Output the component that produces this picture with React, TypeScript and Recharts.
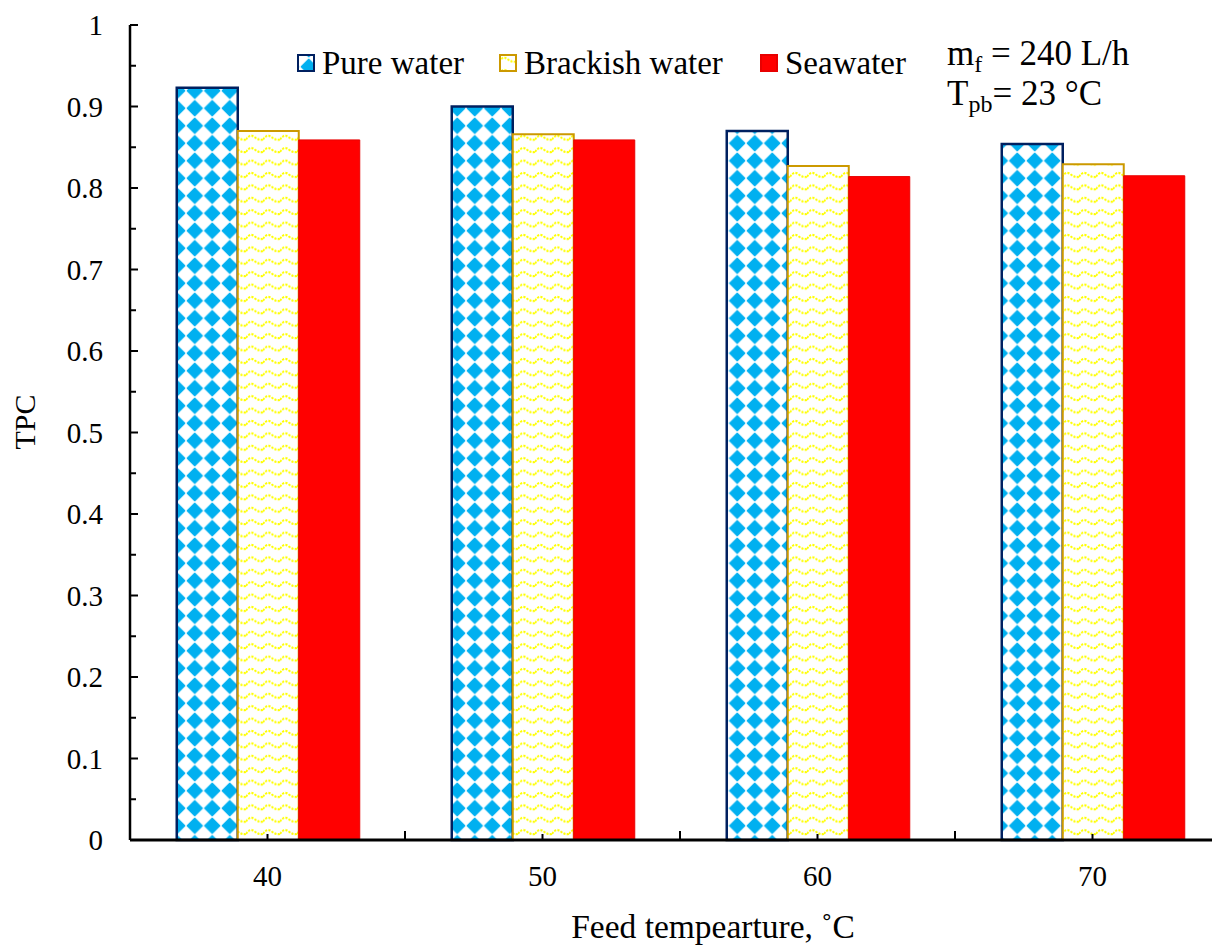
import React from 'react';
import { BarChart, Bar, XAxis, YAxis, Legend, Customized } from 'recharts';

const categories = ['40', '50', '60', '70'];
const pureWater = [0.923, 0.9, 0.87, 0.854];
const brackishWater = [0.87, 0.866, 0.827, 0.829];
const seawater = [0.859, 0.859, 0.814, 0.815];
const seriesNames = ['Pure water', 'Brackish water', 'Seawater'];
const yTicks = [0, 0.05, 0.1, 0.15, 0.2, 0.25, 0.3, 0.35, 0.4, 0.45, 0.5, 0.55, 0.6, 0.65, 0.7, 0.75, 0.8, 0.85, 0.9, 0.95, 1];
const xTitle = 'Feed tempearture, \u02DAC';
const yTitle = 'TPC';

const data = categories.map((c, i) => ({
  temp: c,
  pure: pureWater[i],
  brackish: brackishWater[i],
  sea: seawater[i],
}));

const FONT = "'Liberation Serif', Tinos, 'DejaVu Serif', 'Noto Serif', 'Times New Roman', serif";
const CHART_W = 1240;
const CHART_H = 939;
const MARGIN = { top: 17, right: 18, bottom: 0, left: 0 };
const Y_W = 122;
const X_H = 107;
const PLOT_W = CHART_W - MARGIN.left - MARGIN.right - Y_W;
const HALF_BAND = PLOT_W / categories.length / 2;
const Y_MARGIN = 27;
const X_MARGIN = 46;
const TICK_FS = 29;
const LEGEND_OFFSETS = [0, 202, 463];

const styles = [
  { key: 'pure', fill: 'url(#purePattern)', stroke: '#002060', sw: 2.5 },
  { key: 'brackish', fill: 'url(#brackishPattern)', stroke: '#CC9900', sw: 2 },
  { key: 'sea', fill: '#FF0000', stroke: '#E80000', sw: 1 },
];

function YTick(props: any) {
  const { x, y, payload } = props;
  const v = payload.value as number;
  const major = Math.round(v * 100) % 10 === 0;
  const ax = x + Y_MARGIN;
  return (
    <g>
      <line x1={ax} x2={ax + (major ? 8 : 6)} y1={y} y2={y} stroke="#000" strokeWidth={2} />
      {major && (
        <text x={x} y={y} dy="0.35em" textAnchor="end" fontSize={TICK_FS} style={{ fontFamily: FONT }} fill="#000">
          {String(Number(v.toFixed(1)))}
        </text>
      )}
    </g>
  );
}

function XTick(props: any) {
  const { x, y, payload } = props;
  const ay = y - X_MARGIN;
  return (
    <g>
      <line x1={x} x2={x} y1={ay} y2={ay - 6} stroke="#000" strokeWidth={2} />
      <line x1={x + HALF_BAND} x2={x + HALF_BAND} y1={ay} y2={ay - 9} stroke="#000" strokeWidth={2} />
      <text x={x} y={y} textAnchor="middle" fontSize={TICK_FS} style={{ fontFamily: FONT }} fill="#000">
        {payload.value}
      </text>
    </g>
  );
}

function LegendContent() {
  return (
    <div
      style={{
        position: 'relative',
        width: 640,
        height: 30,
        fontFamily: FONT,
        fontSize: 33,
        lineHeight: '30px',
        whiteSpace: 'nowrap',
        color: '#000',
      }}
    >
      {styles.map((st, i) => (
        <div
          key={st.key}
          style={{ position: 'absolute', left: LEGEND_OFFSETS[i], top: 0, height: 30, display: 'flex', alignItems: 'center' }}
        >
          <svg width={18} height={18} style={{ marginRight: 7, display: 'block' }}>
            <rect x={1} y={1} width={16} height={16} fill={st.fill} stroke={st.stroke} strokeWidth={2} />
          </svg>
          <span>{seriesNames[i]}</span>
        </div>
      ))}
    </div>
  );
}

function Annotations() {
  return (
    <g style={{ fontFamily: FONT }} fill="#000">
      <text x={939} y={57} fontSize={35}>
        m<tspan fontSize={24} dy={7}>f</tspan>
        <tspan fontSize={35} dy={-7}> = 240 L/h</tspan>
      </text>
      <text x={939} y={97} fontSize={35}>
        T<tspan fontSize={24} dy={7}>pb</tspan>
        <tspan fontSize={35} dy={-7}>= 23 °C</tspan>
      </text>
      <text x={27} y={414} fontSize={30} textAnchor="middle" transform="rotate(-90 27 414)">
        {yTitle}
      </text>
      <text x={705} y={930} fontSize={33.5} textAnchor="middle">
        {xTitle}
      </text>
    </g>
  );
}

export default function App() {
  return (
    <div style={{ width: 1212, height: CHART_H, overflow: 'hidden', position: 'relative', fontFamily: FONT }}>
      <svg width={0} height={0} style={{ position: 'absolute' }}>
        <defs>
          <pattern id="purePattern" patternUnits="userSpaceOnUse" width={17.5} height={17.5} x={3} y={4}>
            <rect x={0} y={0} width={17.5} height={17.5} fill="#FFFFFF" />
            <path d="M8.75 1.2 L16.3 8.75 L8.75 16.3 L1.2 8.75 Z" fill="#00B0F0" stroke="#00B0F0" strokeWidth={1.2} strokeLinejoin="round" />
          </pattern>
          <pattern id="brackishPattern" patternUnits="userSpaceOnUse" width={17} height={12.4}>
            <rect x={0} y={0} width={17} height={12.4} fill="#FFFFFF" />
            <path d="M0 7.5 Q4.25 1.5 8.5 5 T17 7.5" fill="none" stroke="#FFFF00" strokeWidth={2} strokeDasharray="2.2 1.2" />
          </pattern>
        </defs>
      </svg>
      <BarChart
        width={CHART_W}
        height={CHART_H}
        data={data}
        margin={MARGIN}
        barCategoryGap="17%"
        barGap={0}
      >
        <XAxis
          dataKey="temp"
          height={X_H}
          tickSize={0}
          tickMargin={X_MARGIN}
          tickLine={false}
          tick={<XTick />}
          interval={0}
          axisLine={{ stroke: '#000', strokeWidth: 3 }}
        />
        <XAxis
          xAxisId="top"
          orientation="top"
          dataKey="temp"
          height={0}
          tick={false}
          tickLine={false}
          axisLine={{ stroke: '#000', strokeWidth: 2.5 }}
        />
        <YAxis
          width={Y_W}
          domain={[0, 1]}
          ticks={yTicks}
          interval={0}
          tickSize={0}
          tickMargin={Y_MARGIN}
          tickLine={false}
          tick={<YTick />}
          axisLine={{ stroke: '#000', strokeWidth: 2.5 }}
        />
        <Legend
          verticalAlign="middle"
          align="center"
          content={<LegendContent />}
          wrapperStyle={{ top: 40, left: 289, width: 'auto' }}
        />
        {styles.map((s, i) => (
          <Bar
            key={s.key}
            dataKey={s.key}
            name={seriesNames[i]}
            fill={s.fill}
            stroke={s.stroke}
            strokeWidth={s.sw}
            isAnimationActive={false}
          />
        ))}
        <Customized component={<Annotations />} />
      </BarChart>
    </div>
  );
}
